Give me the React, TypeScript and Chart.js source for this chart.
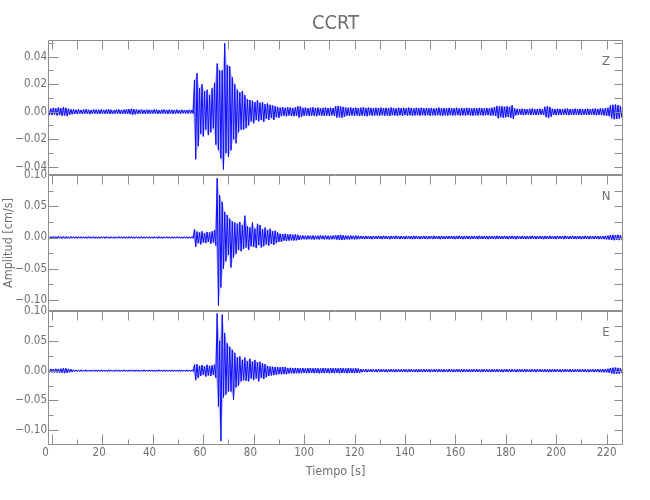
import React, { useEffect, useRef } from 'react';
import { Chart, registerables } from 'chart.js';

Chart.register(...registerables);

// ---------- text ----------
const TITLE = 'CCRT';
const X_LABEL = 'Tiempo [s]';
const Y_LABEL = 'Amplitud [cm/s]';
const COMPONENTS = ['Z', 'N', 'E'];

// ---------- ticks ----------
const X_TICKS = [0, 20, 40, 60, 80, 100, 120, 140, 160, 180, 200, 220];
const Z_TICKS = [-0.04, -0.02, 0, 0.02, 0.04];
const N_TICKS = [-0.1, -0.05, 0, 0.05, 0.1];
const E_TICKS = [-0.1, -0.05, 0, 0.05, 0.1];

// ---------- data: per-second peak (hi) / trough (lo) of each trace, cm/s ----------
const T_FIRST = -1.5; // time of first bin [s]
const BIN_STEP = 1; // s

const zHi = [
  .0025, .0022, .0028, .0024, .0030, .0026, .0032, .0028, .0021, .0018,
  .0016, .0014, .0017, .0013, .0015, .0018, .0014, .0012, .0016, .0015,
  .0014, .0016, .0013, .0015, .0017, .0014, .0012, .0015, .0016, .0013,
  .0015, .0017, .0019, .0021, .0018, .0015, .0014, .0016, .0013, .0015,
  .0014, .0013, .0016, .0015, .0012, .0014, .0016, .0013, .0015, .0014,
  .0013, .0015, .0012, .0014, .0013, .0012, .0014, .0013, .023, .028,
  .017, .020, .015, .016, .012, .017, .021, .035, .030, .030,
  .0497, .034, .033, .025, .020, .016, .014, .015, .012, .009,
  .0085, .008, .007, .0085, .0065, .007, .0055, .006, .005, .0045,
  .004, .0035, .003, .0033, .0028, .0032, .003, .0027, .0031, .004,
  .0038, .0028, .003, .0026, .0029, .0032, .0027, .003, .0025, .0028,
  .0031, .0027, .0029, .0026, .004, .0042, .0038, .0035, .003, .0028,
  .0031, .0027, .003, .0026, .0029, .0032, .0027, .003, .0028, .0026,
  .0029, .0027, .003, .0025, .0028, .0026, .0031, .0027, .0024, .0029,
  .0026, .0028, .0025, .003, .0027, .0024, .0028, .0026, .0029, .0025,
  .0027, .0025, .0028, .0024, .0026, .003, .0025, .0027, .0024, .0028,
  .0026, .0025, .0029, .0024, .0027, .0025, .0028, .0026, .0024, .0027,
  .0025, .0028, .0026, .0024, .0027, .0025, .0029, .0032, .0042, .0038,
  .004, .0036, .0039, .0035, .0048, .0024, .0021, .0019, .0022, .002,
  .0018, .0021, .0023, .0019, .002, .0022, .0018, .0036, .004, .0034,
  .0021, .0019, .0022, .002, .0018, .0021, .0023, .0019, .002, .0022,
  .0019, .0021, .0018, .002, .0022, .0019, .0021, .0023, .002, .0024,
  .0022, .0025, .0028, .0045, .005, .0052, .0048, .004,
];
const zLo = [
  -.0022, -.0025, -.002, -.0028, -.0024, -.003, -.0027, -.0033, -.0022, -.0019,
  -.0015, -.0017, -.0013, -.0016, -.0014, -.0015, -.0018, -.0013, -.0014, -.0016,
  -.0016, -.0013, -.0015, -.0014, -.0016, -.0017, -.0013, -.0014, -.0015, -.0016,
  -.0014, -.0016, -.0018, -.0022, -.0019, -.0016, -.0013, -.0015, -.0016, -.0014,
  -.0015, -.0014, -.0013, -.0016, -.0015, -.0013, -.0014, -.0016, -.0013, -.0015,
  -.0014, -.0013, -.0015, -.0012, -.0014, -.0013, -.0012, -.0014, -.0346, -.025,
  -.016, -.018, -.013, -.017, -.015, -.012, -.024, -.028, -.034, -.042,
  -.030, -.033, -.028, -.020, -.023, -.015, -.013, -.013, -.012, -.010,
  -.007, -.0085, -.006, -.007, -.006, -.0075, -.005, -.006, -.0045, -.006,
  -.004, -.0045, -.0032, -.003, -.0034, -.0028, -.0031, -.0033, -.0029, -.0042,
  -.0036, -.003, -.0027, -.0031, -.0028, -.003, -.0033, -.0026, -.0029, -.0031,
  -.0028, -.003, -.0027, -.0029, -.0043, -.004, -.0045, -.0036, -.0029, -.0031,
  -.0028, -.003, -.0027, -.0032, -.0028, -.003, -.0033, -.0026, -.0029, -.0028,
  -.0027, -.003, -.0026, -.0029, -.0027, -.0031, -.0025, -.0028, -.003, -.0026,
  -.0029, -.0025, -.0028, -.0026, -.003, -.0027, -.0025, -.0029, -.0026, -.0028,
  -.0025, -.0029, -.0026, -.0028, -.0025, -.0027, -.003, -.0026, -.0028, -.0025,
  -.0028, -.0026, -.0025, -.0029, -.0026, -.0028, -.0025, -.0027, -.0029, -.0026,
  -.0027, -.0025, -.0028, -.0026, -.0025, -.0029, -.0027, -.003, -.0048, -.004,
  -.0044, -.0041, -.0038, -.0045, -.0052, -.0026, -.0024, -.0022, -.0025, -.0023,
  -.0021, -.0024, -.0022, -.0025, -.0023, -.0021, -.0024, -.004, -.0045, -.0036,
  -.0023, -.0025, -.0022, -.0024, -.0021, -.0023, -.0025, -.0022, -.0024, -.0021,
  -.0023, -.0025, -.0022, -.0024, -.0023, -.0021, -.0024, -.0026, -.0023, -.0025,
  -.0027, -.003, -.0032, -.0048, -.0055, -.0053, -.005, -.0042,
];

const nHi = [
  .0016, .0014, .0017, .0015, .0018, .0014, .0016, .0015, .0013, .0016,
  .0014, .0013, .0015, .0012, .0014, .0013, .0015, .0012, .0014, .0013,
  .0012, .0014, .0013, .0015, .0012, .0014, .0013, .0012, .0015, .0013,
  .0014, .0013, .0015, .0014, .0012, .0014, .0013, .0015, .0012, .0014,
  .0013, .0012, .0014, .0013, .0015, .0012, .0013, .0014, .0012, .0013,
  .0012, .0014, .0013, .0012, .0014, .0013, .0012, .0014, .013, .0095,
  .008, .010, .007, .009, .008, .010, .012, .095, .068, .057,
  .041, .036, .030, .026, .024, .022, .025, .020, .035, .018,
  .016, .024, .014, .022, .020, .013, .016, .012, .014, .010,
  .011, .008, .006, .0055, .006, .005, .0055, .0045, .005, .0045,
  .003, .0033, .0028, .0031, .0029, .0032, .0027, .003, .0034, .0028,
  .0031, .0029, .0027, .0032, .0035, .0038, .0042, .0036, .003, .0028,
  .0031, .0027, .003, .0028, .0025, .0023, .0026, .0024, .0022, .0025,
  .0024, .0026, .0023, .0027, .0025, .0022, .0026, .0024, .0028, .0023,
  .0025, .0022, .0026, .0024, .0023, .0027, .0025, .0022, .0024, .0026,
  .0023, .0025, .0022, .0027, .0024, .0023, .0026, .0022, .0025, .0024,
  .0026, .0023, .0025, .0028, .0022, .0024, .0026, .0023, .0025, .0022,
  .0024, .0027, .0023, .0025, .0022, .0026, .0024, .0023, .0027, .0025,
  .0023, .0026, .0022, .0024, .0027, .0023, .0025, .0022, .0026, .0024,
  .0022, .0025, .0027, .0023, .0024, .0026, .0022, .0025, .0023, .0027,
  .0024, .0022, .0026, .0023, .0025, .0028, .0022, .0024, .0026, .0023,
  .0025, .0022, .0024, .0027, .0023, .0025, .0022, .0026, .0024, .0023,
  .0024, .0027, .003, .0038, .0042, .004, .0044, .0036,
];
const nLo = [
  -.0015, -.0017, -.0014, -.0016, -.0013, -.0017, -.0015, -.0014, -.0016, -.0013,
  -.0013, -.0015, -.0012, -.0014, -.0013, -.0015, -.0012, -.0014, -.0013, -.0015,
  -.0014, -.0012, -.0015, -.0013, -.0014, -.0012, -.0015, -.0013, -.0012, -.0014,
  -.0013, -.0015, -.0012, -.0014, -.0013, -.0012, -.0015, -.0013, -.0014, -.0012,
  -.0014, -.0013, -.0012, -.0015, -.0013, -.0014, -.0012, -.0013, -.0015, -.0012,
  -.0013, -.0012, -.0014, -.0013, -.0012, -.0014, -.0013, -.0012, -.015, -.009,
  -.011, -.008, -.009, -.007, -.010, -.008, -.013, -.1086, -.080, -.050,
  -.038, -.028, -.048, -.032, -.026, -.020, -.022, -.018, -.016, -.020,
  -.014, -.015, -.017, -.012, -.016, -.014, -.011, -.013, -.010, -.012,
  -.009, -.007, -.007, -.005, -.0055, -.005, -.0045, -.005, -.0045, -.004,
  -.0031, -.0028, -.0032, -.0027, -.003, -.0033, -.0028, -.0031, -.0026, -.003,
  -.0028, -.0032, -.0029, -.0027, -.0034, -.0037, -.0041, -.0035, -.0029, -.0031,
  -.0027, -.003, -.0028, -.0026, -.0024, -.0026, -.0023, -.0025, -.0027, -.0022,
  -.0025, -.0023, -.0026, -.0022, -.0024, -.0027, -.0023, -.0025, -.0022, -.0026,
  -.0024, -.0026, -.0022, -.0025, -.0027, -.0023, -.0024, -.0026, -.0022, -.0025,
  -.0026, -.0023, -.0025, -.0022, -.0024, -.0027, -.0023, -.0025, -.0024, -.0022,
  -.0023, -.0026, -.0024, -.0022, -.0027, -.0025, -.0023, -.0026, -.0022, -.0024,
  -.0026, -.0023, -.0025, -.0022, -.0027, -.0024, -.0022, -.0026, -.0023, -.0025,
  -.0024, -.0022, -.0026, -.0023, -.0025, -.0027, -.0022, -.0024, -.0023, -.0026,
  -.0025, -.0023, -.0022, -.0026, -.0024, -.0022, -.0027, -.0023, -.0025, -.0024,
  -.0022, -.0026, -.0024, -.0023, -.0027, -.0022, -.0025, -.0024, -.0023, -.0026,
  -.0024, -.0027, -.0023, -.0022, -.0026, -.0024, -.0025, -.0023, -.0026, -.0025,
  -.0027, -.003, -.0033, -.004, -.0044, -.0038, -.0042, -.0035,
];

const eHi = [
  .0028, .003, .0026, .0032, .0029, .0034, .004, .0038, .003, .0025,
  .0014, .0012, .0013, .0015, .0012, .0014, .0013, .0012, .0014, .0013,
  .0012, .0014, .0013, .0012, .0015, .0013, .0012, .0014, .0013, .0012,
  .0014, .0013, .0012, .0014, .0013, .0015, .0012, .0013, .0014, .0012,
  .0013, .0014, .0012, .0013, .0015, .0012, .0014, .0013, .0012, .0014,
  .0013, .0012, .0014, .0013, .0012, .0014, .0013, .0012, .010, .011,
  .008, .0095, .007, .010, .008, .009, .010, .096, .050, .094,
  .063, .046, .040, .035, .030, .022, .024, .018, .022, .016,
  .020, .015, .018, .014, .015, .012, .011, .008, .007, .0065,
  .006, .006, .0058, .0062, .006, .0045, .0048, .0042, .0046, .0044,
  .004, .0044, .0038, .0042, .0045, .0039, .0043, .0041, .0037, .0044,
  .0042, .0038, .0045, .004, .0043, .0039, .0046, .0041, .0038, .0043,
  .004, .0037, .0041, .0035, .0026, .0023, .0025, .0022, .0024, .0021,
  .0023, .0025, .0022, .0024, .0021, .0023, .0025, .0022, .0024, .0023,
  .0021, .0024, .0022, .0025, .0023, .0021, .0024, .0022, .0023, .0025,
  .0022, .0024, .0021, .0023, .0025, .0022, .0024, .0023, .0021, .0024,
  .0023, .0021, .0025, .0022, .0024, .0023, .0021, .0024, .0022, .0025,
  .0024, .0022, .0023, .0025, .0021, .0024, .0022, .0023, .0025, .0022,
  .0021, .0024, .0023, .0022, .0025, .0021, .0023, .0024, .0022, .0025,
  .0023, .0021, .0024, .0022, .0023, .0025, .0021, .0024, .0022, .0023,
  .0025, .0022, .0024, .0021, .0023, .0025, .0022, .0024, .0023, .0021,
  .0024, .0022, .0025, .0023, .0021, .0024, .0022, .0023, .0025, .0024,
  .0026, .0028, .0032, .0045, .005, .0052, .0048, .004,
];
const eLo = [
  -.0027, -.0031, -.0029, -.0033, -.003, -.0035, -.0042, -.0036, -.0028, -.0024,
  -.0013, -.0015, -.0012, -.0014, -.0013, -.0012, -.0015, -.0013, -.0012, -.0014,
  -.0013, -.0012, -.0014, -.0015, -.0013, -.0012, -.0014, -.0013, -.0015, -.0012,
  -.0013, -.0014, -.0012, -.0013, -.0015, -.0012, -.0014, -.0013, -.0012, -.0014,
  -.0012, -.0013, -.0015, -.0014, -.0012, -.0013, -.0014, -.0012, -.0015, -.0013,
  -.0012, -.0014, -.0013, -.0012, -.0014, -.0013, -.0015, -.0013, -.016, -.012,
  -.009, -.007, -.010, -.008, -.009, -.007, -.012, -.060, -.118, -.045,
  -.040, -.035, -.035, -.049, -.028, -.025, -.018, -.016, -.017, -.018,
  -.013, -.016, -.013, -.018, -.012, -.014, -.011, -.009, -.008, -.0075,
  -.007, -.006, -.0062, -.0058, -.006, -.0046, -.0044, -.0048, -.0043, -.0045,
  -.0042, -.0038, -.0044, -.004, -.0037, -.0043, -.0041, -.0045, -.0039, -.0042,
  -.0038, -.0044, -.004, -.0042, -.0037, -.0045, -.0041, -.0039, -.0043, -.004,
  -.0038, -.0042, -.0036, -.004, -.0025, -.0023, -.0026, -.0022, -.0024, -.0023,
  -.0025, -.0022, -.0024, -.0023, -.0026, -.0022, -.0024, -.0025, -.0023, -.0021,
  -.0024, -.0022, -.0025, -.0023, -.0021, -.0024, -.0026, -.0022, -.0024, -.0023,
  -.0022, -.0025, -.0023, -.0021, -.0024, -.0022, -.0025, -.0023, -.0024, -.0022,
  -.0024, -.0023, -.0021, -.0025, -.0022, -.0024, -.0023, -.0025, -.0021, -.0023,
  -.0022, -.0025, -.0024, -.0021, -.0023, -.0025, -.0022, -.0024, -.0023, -.0021,
  -.0025, -.0022, -.0024, -.0023, -.0021, -.0024, -.0025, -.0022, -.0023, -.0024,
  -.0022, -.0024, -.0021, -.0025, -.0023, -.0022, -.0024, -.0021, -.0025, -.0023,
  -.0024, -.0022, -.0023, -.0025, -.0021, -.0024, -.0022, -.0025, -.0023, -.0022,
  -.0023, -.0025, -.0022, -.0024, -.0026, -.0022, -.0024, -.0023, -.0025, -.0026,
  -.0028, -.003, -.0034, -.0048, -.0055, -.005, -.0052, -.0042,
];

// ---------- layout / style ----------
const W = 650;
const H = 500;
const PLOT_LEFT = 48;
const PLOT_RIGHT = 623;
const X_AXIS_H = 40;
const X_MIN = -1.6;
const X_MAX = 226.5;
const TRACE = '#0000ff';
const TRACE_FILL = 'rgba(40, 40, 255, 0.3)';
const TEXT = '#707070';
const AXIS = '#8e8e8e';
const FAMILY = "'Liberation Sans Narrow', 'DejaVu Sans Condensed', 'Liberation Sans', sans-serif";

const PANELS = [
  { hi: zHi, lo: zLo, ticks: Z_TICKS, minor: 0.01, min: -0.046, max: 0.0521, top: 40, bottom: 175 },
  { hi: nHi, lo: nLo, ticks: N_TICKS, minor: 0.025, min: -0.1176, max: 0.1, top: 175, bottom: 311 },
  { hi: eHi, lo: eLo, ticks: E_TICKS, minor: 0.025, min: -0.1246, max: 0.1, top: 311, bottom: 445 },
];

function buildTrace(hi: number[], lo: number[]) {
  const pts: { x: number; y: number }[] = [];
  for (let i = 0; i < hi.length; i++) {
    const t = T_FIRST + i * BIN_STEP;
    pts.push({ x: t, y: hi[i] });
    pts.push({ x: t + BIN_STEP / 2, y: lo[i] });
  }
  return pts;
}
function buildEnvelope(vals: number[], shift: number) {
  return vals.map((v, i) => ({ x: T_FIRST + i * BIN_STEP + shift, y: v }));
}

function fmtY(v: number) {
  const s = Math.abs(v).toFixed(2);
  return v < -1e-9 ? '\u2212' + s : s;
}

function makePlugin(idx: number, p: typeof PANELS[number]) {
  return {
    id: 'frame' + idx,
    afterDraw(chart: any) {
      const ctx = chart.ctx as CanvasRenderingContext2D;
      const { left, right, top, bottom } = chart.chartArea;
      const xs = chart.scales.x;
      const ys = chart.scales.y;
      const isLast = idx === PANELS.length - 1;
      const L = Math.round(left) + 0.5;
      const R = Math.round(right) - 0.5;
      const T = Math.round(top) + 0.5;
      const B = Math.round(bottom) - 0.5;
      ctx.save();
      ctx.strokeStyle = AXIS;
      ctx.lineWidth = 1;
      ctx.beginPath();
      ctx.moveTo(L, T); ctx.lineTo(R, T); ctx.lineTo(R, B); ctx.lineTo(L, B); ctx.closePath();
      const eps = 1e-9;
      const start = Math.ceil((p.min - eps) / p.minor);
      const end = Math.floor((p.max + eps) / p.minor);
      for (let k = start; k <= end; k++) {
        const v = k * p.minor;
        const major = p.ticks.some((t) => Math.abs(t - v) < 1e-7);
        const y = Math.round(ys.getPixelForValue(v)) + 0.5;
        ctx.moveTo(L, y); ctx.lineTo(L + (major ? 10 : 5), y);
        ctx.moveTo(R, y); ctx.lineTo(R - 8, y);
      }
      for (let v = 0; v <= X_MAX; v += 10) {
        const x = Math.round(xs.getPixelForValue(v)) + 0.5;
        ctx.moveTo(x, T); ctx.lineTo(x, T + 9);
        if (isLast) {
          const major = X_TICKS.includes(v);
          ctx.moveTo(x, B); ctx.lineTo(x, B - (major ? 10 : 5));
        }
      }
      ctx.stroke();
      ctx.fillStyle = TEXT;
      ctx.font = `13px ${FAMILY}`;
      ctx.textAlign = 'center';
      ctx.textBaseline = 'middle';
      ctx.fillText(COMPONENTS[idx], right - 17, top + 22);
      if (idx === 0) {
        ctx.font = `20px ${FAMILY}`;
        ctx.fillText(TITLE, (left + right) / 2, 24);
      }
      ctx.restore();
    },
  };
}

export default function App() {
  const refs = [useRef<HTMLCanvasElement>(null), useRef<HTMLCanvasElement>(null), useRef<HTMLCanvasElement>(null)];

  useEffect(() => {
    const charts: Chart[] = [];
    PANELS.forEach((p, idx) => {
      const canvas = refs[idx].current;
      if (!canvas) return;
      const isLast = idx === PANELS.length - 1;
      const tickFont = { family: FAMILY, size: 11.5 };
      const chart = new Chart(canvas, {
        type: 'line',
        data: {
          datasets: [
            {
              data: buildEnvelope(p.hi, 0),
              borderWidth: 0,
              borderColor: 'rgba(0,0,0,0)',
              pointRadius: 0,
              tension: 0,
              fill: false,
            },
            {
              data: buildEnvelope(p.lo, BIN_STEP / 2),
              borderWidth: 0,
              borderColor: 'rgba(0,0,0,0)',
              backgroundColor: TRACE_FILL,
              pointRadius: 0,
              tension: 0,
              fill: '-1',
            },
            {
              data: buildTrace(p.hi, p.lo),
              borderColor: TRACE,
              borderWidth: 1,
              pointRadius: 0,
              tension: 0,
              fill: false,
            },
          ],
        },
        options: {
          animation: false,
          responsive: false,
          devicePixelRatio: 1,
          events: [],
          layout: {
            autoPadding: false,
            padding: {
              left: 0,
              right: W - PLOT_RIGHT,
              top: p.top,
              bottom: isLast ? H - p.bottom - X_AXIS_H : H - p.bottom,
            },
          },
          plugins: { legend: { display: false }, tooltip: { enabled: false }, title: { display: false } },
          scales: {
            x: {
              type: 'linear',
              min: X_MIN,
              max: X_MAX,
              display: isLast,
              afterFit: (s: any) => { s.height = isLast ? X_AXIS_H : 0; },
              afterBuildTicks: (s: any) => { s.ticks = X_TICKS.map((v) => ({ value: v })); },
              grid: { display: false, drawTicks: false },
              border: { display: false },
              ticks: {
                autoSkip: false,
                maxRotation: 0,
                padding: 1,
                color: TEXT,
                font: tickFont,
                callback: (v: any) => String(v).padEnd(3, '\u2007'),
              },
              title: {
                display: true,
                text: X_LABEL,
                color: TEXT,
                font: { family: FAMILY, size: 12.5 },
                padding: { top: 0, bottom: 6 },
              },
            },
            y: {
              type: 'linear',
              min: p.min,
              max: p.max,
              afterFit: (s: any) => { s.width = PLOT_LEFT; },
              afterBuildTicks: (s: any) => { s.ticks = p.ticks.map((v) => ({ value: v })); },
              grid: { display: false, drawTicks: false },
              border: { display: false },
              ticks: {
                autoSkip: false,
                padding: 1,
                color: TEXT,
                font: tickFont,
                callback: (v: any) => fmtY(Number(v)),
              },
              title: {
                display: idx === 1,
                text: Y_LABEL,
                color: TEXT,
                font: { family: FAMILY, size: 12.5 },
                padding: { top: 1, bottom: 0 },
              },
            },
          },
        } as any,
        plugins: [makePlugin(idx, p)],
      });
      charts.push(chart);
    });
    return () => charts.forEach((c) => c.destroy());
  }, []);

  const canvasStyle: React.CSSProperties = { position: 'absolute', left: 0, top: 0 };
  return (
    <div style={{ position: 'absolute', left: 0, top: 0, width: W, height: H, background: '#ffffff' }}>
      {refs.map((r, i) => (
        <canvas key={i} ref={r} width={W} height={H} style={canvasStyle} />
      ))}
    </div>
  );
}
